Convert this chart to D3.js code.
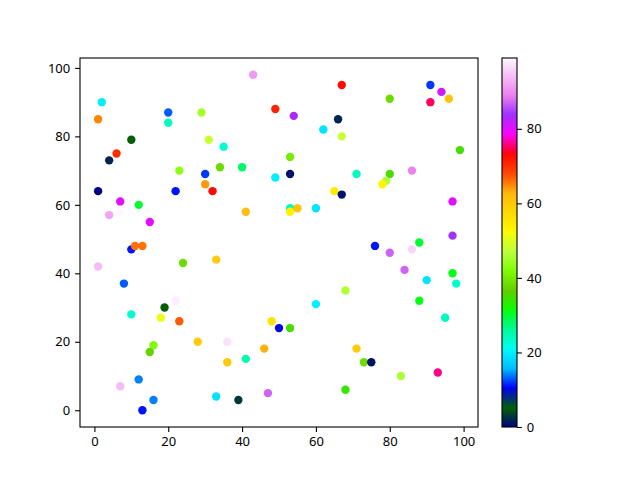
<!DOCTYPE html>
<html>
<head>
<meta charset="utf-8">
<script src="https://cdn.jsdelivr.net/npm/d3@7"></script>
<style>
  body { margin: 0; background: #fff; }
  svg text { font-family: "Noto Sans", "DejaVu Sans", sans-serif; }
</style>
</head>
<body>
<svg id="chart" width="640" height="480"></svg>
<script>
// scatter data
let xVals = [1, 2, 1, 4, 6, 10, 7, 4, 7, 12, 15, 1, 10, 11, 13, 8, 10, 19, 18, 16,
             15, 7, 12, 16, 13, 20, 20, 29, 23, 22, 30, 30, 32, 31, 35, 34, 40, 49, 41, 43,
             49, 67, 91, 94, 91, 96, 80, 54, 66, 62, 67, 53, 99, 53, 71, 80, 86, 79, 78, 65,
             67, 97, 53, 53, 55, 60, 97, 88, 76, 80, 86, 84, 97, 90, 98, 68, 60, 88, 95, 50,
             53, 71, 73, 75, 83, 93, 68, 24, 33, 22, 23, 48, 28, 36, 46, 36, 41, 33, 39, 47];
let yVals = [85, 90, 64, 73, 75, 79, 61, 57, 58, 60, 55, 42, 47, 48, 48, 37, 28, 30, 27, 19,
             17, 7, 9, 3, 0, 87, 84, 87, 70, 64, 69, 66, 64, 79, 77, 71, 71, 68, 58, 98,
             88, 95, 95, 93, 90, 91, 91, 86, 85, 82, 80, 74, 76, 69, 69, 69, 70, 67, 66, 64,
             63, 61, 59, 58, 59, 59, 51, 49, 48, 46, 47, 41, 40, 38, 37, 35, 31, 32, 27, 24,
             24, 18, 14, 14, 10, 11, 6, 43, 44, 32, 26, 26, 20, 20, 18, 14, 15, 4, 3, 5];
let cVals = [65, 20, 0, 2, 70, 5, 80, 92, 99, 30, 80, 94, 11, 66, 66, 13, 23, 5, 51, 42,
             37, 94, 14, 14, 11, 13, 24, 45, 43, 11, 12, 64, 73, 48, 23, 38, 28, 20, 62, 91,
             71, 73, 12, 81, 75, 61, 38, 83, 2, 19, 48, 40, 35, 1, 24, 35, 89, 46, 53, 55,
             1, 80, 24, 54, 61, 19, 84, 30, 11, 87, 96, 87, 31, 19, 23, 46, 20, 31, 24, 10,
             35, 60, 38, 1, 46, 76, 34, 38, 60, 98, 67, 56, 60, 97, 63, 60, 25, 19, 3, 87];
let cbarTicks = [0, 20, 40, 60, 80];

// matplotlib gist_ncar segment data
let ncarR = [[0, 0], [0.3098, 0], [0.3725, 0.3993], [0.4235, 0.5003], [0.5333, 1], [0.7922, 1],
             [0.8471, 0.6218], [0.898, 0.9235], [1, 0.9961]];
let ncarG = [[0, 0], [0.051, 0.3722], [0.1059, 0], [0.1569, 0.7202], [0.1608, 0.7537], [0.1647, 0.7752],
             [0.2157, 1], [0.2588, 0.9804], [0.2706, 0.9804], [0.3176, 1], [0.3686, 0.8081], [0.4275, 1],
             [0.5216, 1], [0.6314, 0.7292], [0.6863, 0.2796], [0.7451, 0], [0.7922, 0], [0.8431, 0.1753],
             [0.898, 0.5], [1, 0.9725]];
let ncarB = [[0, 0.502], [0.051, 0.0222], [0.1098, 1], [0.2039, 1], [0.2627, 0.6145], [0.3216, 0],
             [0.4157, 0], [0.4745, 0.2342], [0.5333, 0], [0.5804, 0], [0.6314, 0.0549], [0.6902, 0],
             [0.7373, 0], [0.7922, 0.9738], [0.8, 1], [0.8431, 1], [0.898, 0.9341], [1, 0.9961]];

let chan = seg => d3.scaleLinear().domain(seg.map(d => d[0])).range(seg.map(d => d[1])).clamp(true);
let rS = chan(ncarR), gS = chan(ncarG), bS = chan(ncarB);
let ncar = t => d3.rgb(rS(t) * 255, gS(t) * 255, bS(t) * 255).formatHex();

let points = xVals.map((x, i) => ({x: x, y: yVals[i], c: cVals[i]}));

let svg = d3.select("#chart");
let plotLeft = 80, plotRight = 478, plotTop = 58, plotBottom = 427;

function padded(vals) {
    let [lo, hi] = d3.extent(vals);
    let m = (hi - lo) * 0.05;
    return [lo - m, hi + m];
}

let x = d3.scaleLinear().domain(padded(xVals)).range([plotLeft, plotRight]);
let y = d3.scaleLinear().domain(padded(yVals)).range([plotBottom, plotTop]);
let cNorm = d3.scaleLinear().domain(d3.extent(cVals)).range([0, 1]);

svg.append("g")
    .selectAll("circle")
    .data(points)
    .enter().append("circle")
    .attr("cx", d => x(d.x))
    .attr("cy", d => y(d.y))
    .attr("r", 4.2)
    .attr("fill", d => ncar(cNorm(d.c)));

let xAxis = svg.append("g")
    .attr("transform", "translate(0," + plotBottom + ")")
    .call(d3.axisBottom(x).tickValues([0, 20, 40, 60, 80, 100]).tickSize(4.9).tickPadding(4.9));
let yAxis = svg.append("g")
    .attr("transform", "translate(" + plotLeft + ",0)")
    .call(d3.axisLeft(y).tickValues([0, 20, 40, 60, 80, 100]).tickSize(4.9).tickPadding(4.9));

svg.append("rect")
    .attr("x", plotLeft).attr("y", plotTop)
    .attr("width", plotRight - plotLeft).attr("height", plotBottom - plotTop)
    .attr("fill", "none").attr("stroke", "#000").attr("stroke-width", 1.1);

// colorbar
let cbLeft = 502, cbW = 15;
let cy = d3.scaleLinear().domain(d3.extent(cVals)).range([plotBottom, plotTop]);
let grad = svg.append("defs").append("linearGradient")
    .attr("id", "ncar").attr("x1", 0).attr("y1", 1).attr("x2", 0).attr("y2", 0);
grad.selectAll("stop")
    .data(d3.range(0, 257).map(i => i / 256))
    .enter().append("stop")
    .attr("offset", d => d)
    .attr("stop-color", d => ncar(d));

svg.append("rect")
    .attr("x", cbLeft).attr("y", plotTop)
    .attr("width", cbW).attr("height", plotBottom - plotTop)
    .attr("fill", "url(#ncar)")
    .attr("stroke", "#000").attr("stroke-width", 1.1);

let cAxis = svg.append("g")
    .attr("transform", "translate(" + (cbLeft + cbW) + ",0)")
    .call(d3.axisRight(cy).tickValues(cbarTicks).tickSize(4.9).tickPadding(4.9));

[xAxis, yAxis, cAxis].forEach(g => {
    g.select(".domain").remove();
    g.selectAll("line").attr("stroke", "#000").attr("stroke-width", 1.1);
    g.selectAll("text").attr("font-size", 13).attr("fill", "#000")
        .style("font-family", "'Noto Sans', 'DejaVu Sans', sans-serif");
});
</script>
</body>
</html>
